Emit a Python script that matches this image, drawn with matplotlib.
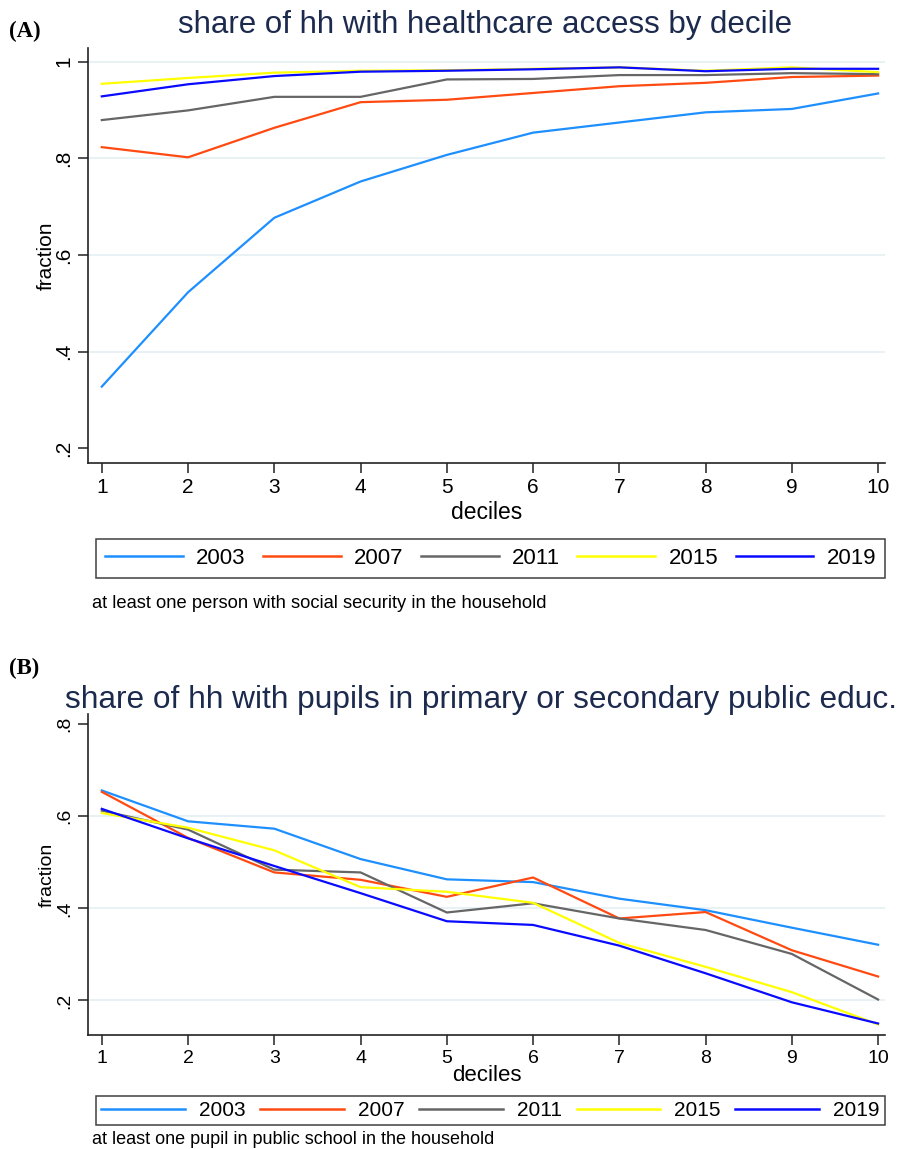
import matplotlib
matplotlib.use("Agg")
import matplotlib.pyplot as plt
from matplotlib.lines import Line2D

plt.rcParams['font.family'] = ['Liberation Sans', 'DejaVu Sans']

deciles = [1, 2, 3, 4, 5, 6, 7, 8, 9, 10]
years = ['2003', '2007', '2011', '2015', '2019']
colors = ['#1e8fff', '#ff4a12', '#666666', '#ffff00', '#0a0aff']

# share of households with healthcare access
health_2003 = [0.328, 0.523, 0.677, 0.752, 0.807, 0.853, 0.874, 0.895, 0.902, 0.934]
health_2007 = [0.823, 0.802, 0.863, 0.916, 0.921, 0.935, 0.949, 0.956, 0.968, 0.971]
health_2011 = [0.879, 0.899, 0.927, 0.927, 0.963, 0.964, 0.972, 0.972, 0.976, 0.974]
health_2015 = [0.954, 0.966, 0.977, 0.981, 0.982, 0.985, 0.988, 0.981, 0.988, 0.978]
health_2019 = [0.928, 0.953, 0.970, 0.979, 0.981, 0.984, 0.988, 0.980, 0.985, 0.985]

# share of households with pupils in public education
educ_2003 = [0.656, 0.589, 0.573, 0.507, 0.463, 0.457, 0.421, 0.396, 0.358, 0.321]
educ_2007 = [0.653, 0.553, 0.478, 0.462, 0.425, 0.467, 0.378, 0.392, 0.309, 0.252]
educ_2011 = [0.612, 0.571, 0.484, 0.478, 0.391, 0.411, 0.378, 0.353, 0.301, 0.202]
educ_2015 = [0.607, 0.575, 0.526, 0.446, 0.436, 0.412, 0.325, 0.273, 0.218, 0.148]
educ_2019 = [0.616, 0.552, 0.492, 0.433, 0.372, 0.364, 0.319, 0.259, 0.196, 0.150]

health = [health_2003, health_2007, health_2011, health_2015, health_2019]
educ = [educ_2003, educ_2007, educ_2011, educ_2015, educ_2019]

W, H = 899, 1149
fig = plt.figure(figsize=(W / 100, H / 100), dpi=100)
fig.patch.set_facecolor('white')


def px_axes(left, top, right, bottom):
    return fig.add_axes([left / W, 1 - bottom / H, (right - left) / W, (bottom - top) / H])


def style_axes(ax, yticks, ylabels, grid_at, ylim, tick_fs, xlab_fs, xlab_pad):
    ax.set_xlim(0.84, 10.08)
    ax.set_ylim(*ylim)
    for s in ['top', 'right']:
        ax.spines[s].set_visible(False)
    for s in ['left', 'bottom']:
        ax.spines[s].set_color('#222222')
        ax.spines[s].set_linewidth(1.2)
    for g in grid_at:
        ax.axhline(g, color='#e6f0f2', lw=1.3, zorder=0)
    ax.set_xticks(deciles)
    ax.set_xticklabels([str(d) for d in deciles], fontsize=tick_fs)
    ax.set_yticks(yticks)
    ax.set_yticklabels(ylabels, fontsize=tick_fs, rotation=90, va='center')
    ax.tick_params(direction='out', length=7, width=1.1, color='#222222')
    ax.set_xlabel('deciles', fontsize=xlab_fs, labelpad=xlab_pad)


# panel A
axA = px_axes(88, 48, 885, 463)
for vals, c in zip(health, colors):
    axA.plot(deciles, vals, color=c, lw=1.6)
style_axes(axA, [0.2, 0.4, 0.6, 0.8, 1.0], ['.2', '.4', '.6', '.8', '1'],
           [0.4, 0.6, 0.8, 1.0], (0.170, 1.028), 15, 16.5, 3)
axA.yaxis.set_label_coords(-32 / 797, 0.5)
axA.set_ylabel('fraction', fontsize=15)
fig.text(485 / W, 1 - 25 / H, 'share of hh with healthcare access by decile',
         ha='center', va='center', fontsize=22.5, color='#1c2a4e')
fig.text(9 / W, 1 - 31 / H, '(A)', ha='left', va='center', fontsize=16.5,
         fontweight='bold', family='Liberation Serif')

handles = [Line2D([], [], color=c, lw=1.8) for c in colors]
legA = fig.legend(handles, years, loc='lower left', ncol=5, mode='expand',
                  bbox_to_anchor=(96 / W, 1 - 578 / H, 789 / W, 41 / H),
                  fontsize=16, handlelength=3.5, handletextpad=0.6,
                  fancybox=False, edgecolor='#111111', borderaxespad=0,
                  borderpad=0.4, columnspacing=1.0)
legA.get_frame().set_linewidth(1.1)
fig.text(92 / W, 1 - 603 / H, 'at least one person with social security in the household',
         ha='left', va='center', fontsize=13.2)

# panel B
axB = px_axes(88, 714, 885, 1035)
for vals, c in zip(educ, colors):
    axB.plot(deciles, vals, color=c, lw=1.6)
style_axes(axB, [0.2, 0.4, 0.6, 0.8], ['.2', '.4', '.6', '.8'],
           [0.2, 0.4, 0.6], (0.125, 0.822), 14, 16, -1)
axB.yaxis.set_label_coords(-32 / 797, 0.5)
axB.set_ylabel('fraction', fontsize=14)
fig.text(481 / W, 1 - 700 / H, 'share of hh with pupils in primary or secondary public educ.',
         ha='center', va='center', fontsize=22.8, color='#1c2a4e')
fig.text(9 / W, 1 - 668 / H, '(B)', ha='left', va='center', fontsize=16.5,
         fontweight='bold', family='Liberation Serif')

legB = fig.legend(handles, years, loc='lower left', ncol=5, mode='expand',
                  bbox_to_anchor=(96 / W, 1 - 1125 / H, 789 / W, 32 / H),
                  fontsize=15, handlelength=4, handletextpad=0.7,
                  fancybox=False, edgecolor='#111111', borderaxespad=0,
                  borderpad=0.25, columnspacing=1.0)
legB.get_frame().set_linewidth(1.1)
fig.text(92 / W, 1 - 1140 / H, 'at least one pupil in public school in the household',
         ha='left', va='center', fontsize=13)

fig.savefig('out.png', dpi=100)
